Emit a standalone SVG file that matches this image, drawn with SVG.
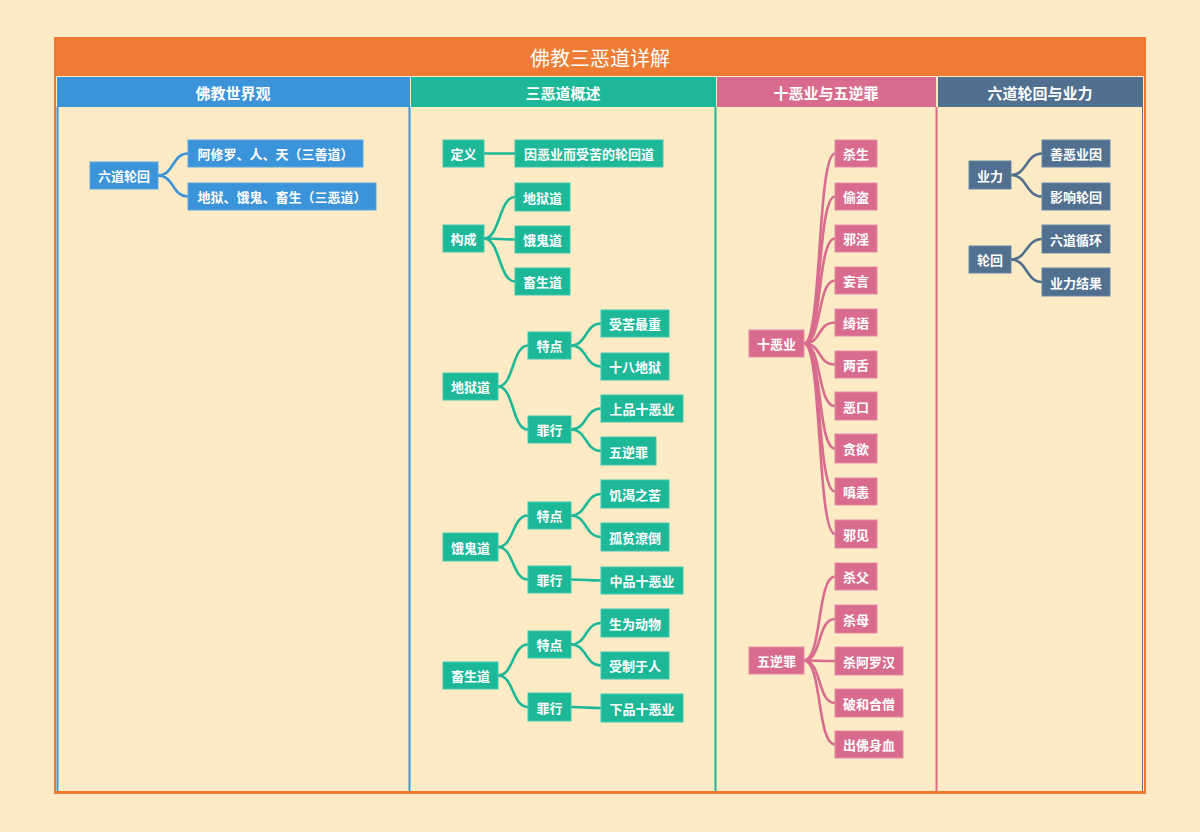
<svg xmlns="http://www.w3.org/2000/svg" width="1200" height="832" viewBox="0 0 1200 832">
<style>
text{font-family:"Noto Sans CJK SC","Microsoft YaHei",sans-serif;fill:#fff;text-anchor:middle;dominant-baseline:central}
.n{font-size:13px;font-weight:600}
.h{font-size:15px;font-weight:600}
.b rect{fill:#3B94D9;stroke:#5aa8e2;stroke-width:1}
.t rect{fill:#1DB898;stroke:#45c8ad;stroke-width:1}
.p rect{fill:#D96C8E;stroke:#e48ba6;stroke-width:1}
.s rect{fill:#517090;stroke:#6b87a3;stroke-width:1}
.c path{fill:none;stroke-width:2.6;stroke-linecap:round}
.cb path{stroke:#3B94D9}.ct path{stroke:#1DB898}.cp path{stroke:#D96C8E}.cs path{stroke:#517090}
</style>
<rect width="1200" height="832" fill="#FDEBC5"/>
<g id="frame">
<rect x="55" y="38" width="1090" height="755" fill="#FDEBC5" stroke="#EE7C34" stroke-width="2"/>
<rect x="55" y="38" width="1090" height="38" fill="#EE7C34"/>
<text x="600" y="57" style="font-size:20px">佛教三恶道详解</text>
</g>
<g id="columns">
<rect x="57" y="77" width="353" height="30" fill="#3B94D9"/>
<rect x="411" y="77" width="305" height="30" fill="#1DB898"/>
<rect x="717" y="77" width="219" height="30" fill="#D96C8E"/>
<rect x="938" y="77" width="205" height="30" fill="#517090"/>
<text class="h" x="233" y="92">佛教世界观</text>
<text class="h" x="563" y="92">三恶道概述</text>
<text class="h" x="826" y="92">十恶业与五逆罪</text>
<text class="h" x="1040" y="92">六道轮回与业力</text>
<line x1="57.5" y1="107" x2="57.5" y2="792" stroke="#3B94D9" stroke-width="2"/>
<line x1="409.5" y1="107" x2="409.5" y2="792" stroke="#3B94D9" stroke-width="2"/>
<line x1="715.5" y1="107" x2="715.5" y2="792" stroke="#1DB898" stroke-width="2"/>
<line x1="936.5" y1="107" x2="936.5" y2="792" stroke="#D96C8E" stroke-width="2"/>
<line x1="1142.5" y1="107" x2="1142.5" y2="792" stroke="#517090" stroke-width="1"/>
<line x1="55" y1="792" x2="1145" y2="792" stroke="#EE7C34" stroke-width="2"/>
</g>
<g id="connectors" class="c">
<g class="cb">
<path d="M158,175.5 C174,175.5 172,153.5 188,153.5"/>
<path d="M158,175.5 C174,175.5 172,196.5 188,196.5"/>
</g>
<g class="ct">
<path d="M484,153.5 L515,153.5"/>
<path d="M484,238.5 C500,238.5 499,197 515,197"/>
<path d="M484,238.5 C500,238.5 499,239.5 515,239.5"/>
<path d="M484,238.5 C500,238.5 499,281.5 515,281.5"/>
<path d="M498,386.5 C514,386.5 512,345.5 528,345.5"/>
<path d="M498,386.5 C514,386.5 512,429.5 528,429.5"/>
<path d="M571,345.5 C587,345.5 585,323.5 601,323.5"/>
<path d="M571,345.5 C587,345.5 585,366.5 601,366.5"/>
<path d="M571,429.5 C587,429.5 585,408.5 601,408.5"/>
<path d="M571,429.5 C587,429.5 585,451 601,451"/>
<path d="M498,547 C514,547 512,515.5 528,515.5"/>
<path d="M498,547 C514,547 512,579.5 528,579.5"/>
<path d="M571,515.5 C587,515.5 585,494 601,494"/>
<path d="M571,515.5 C587,515.5 585,537 601,537"/>
<path d="M571,579.5 C587,579.5 585,580.5 601,580.5"/>
<path d="M498,675.5 C514,675.5 512,644.5 528,644.5"/>
<path d="M498,675.5 C514,675.5 512,707 528,707"/>
<path d="M571,644.5 C587,644.5 585,623 601,623"/>
<path d="M571,644.5 C587,644.5 585,665.5 601,665.5"/>
<path d="M571,707 C587,707 585,708 601,708"/>
</g>
<g class="cp">
<path d="M804,343.5 C822,343.5 817,153.5 835,153.5"/>
<path d="M804,343.5 C822,343.5 817,196.5 835,196.5"/>
<path d="M804,343.5 C822,343.5 817,238.5 835,238.5"/>
<path d="M804,343.5 C822,343.5 817,280.5 835,280.5"/>
<path d="M804,343.5 C822,343.5 817,322.5 835,322.5"/>
<path d="M804,343.5 C822,343.5 817,364.5 835,364.5"/>
<path d="M804,343.5 C822,343.5 817,406 835,406"/>
<path d="M804,343.5 C822,343.5 817,448.5 835,448.5"/>
<path d="M804,343.5 C822,343.5 817,491.5 835,491.5"/>
<path d="M804,343.5 C822,343.5 817,534 835,534"/>
<path d="M804,660.5 C822,660.5 817,576.5 835,576.5"/>
<path d="M804,660.5 C822,660.5 817,619 835,619"/>
<path d="M804,660.5 C822,660.5 817,661 835,661"/>
<path d="M804,660.5 C822,660.5 817,703 835,703"/>
<path d="M804,660.5 C822,660.5 817,744.5 835,744.5"/>
</g>
<g class="cs">
<path d="M1011,175 C1027,175 1026,153.5 1042,153.5"/>
<path d="M1011,175 C1027,175 1026,196.5 1042,196.5"/>
<path d="M1011,259.5 C1027,259.5 1026,239 1042,239"/>
<path d="M1011,259.5 C1027,259.5 1026,282 1042,282"/>
</g>
</g>
<g id="n-liudao" class="b"><rect x="90" y="162" width="68" height="27"/><text class="n" x="124" y="175.5">六道轮回</text></g>
<g id="n-sanshan" class="b"><rect x="188" y="140" width="175" height="27"/><text class="n" x="275.5" y="153.5">阿修罗、人、天（三善道）</text></g>
<g id="n-sane" class="b"><rect x="188" y="183" width="188" height="27"/><text class="n" x="282" y="196.5">地狱、饿鬼、畜生（三恶道）</text></g>

<g id="n-dingyi" class="t"><rect x="443" y="140" width="41" height="27"/><text class="n" x="463.5" y="153.5">定义</text></g>
<g id="n-dingyi-c" class="t"><rect x="515" y="140" width="148" height="27"/><text class="n" x="589" y="153.5">因恶业而受苦的轮回道</text></g>
<g id="n-goucheng" class="t"><rect x="443" y="225" width="41" height="27"/><text class="n" x="463.5" y="238.5">构成</text></g>
<g id="n-gc1" class="t"><rect x="515" y="183" width="55" height="28"/><text class="n" x="542.5" y="197">地狱道</text></g>
<g id="n-gc2" class="t"><rect x="515" y="226" width="55" height="27"/><text class="n" x="542.5" y="239.5">饿鬼道</text></g>
<g id="n-gc3" class="t"><rect x="515" y="268" width="55" height="27"/><text class="n" x="542.5" y="281.5">畜生道</text></g>

<g id="n-diyu" class="t"><rect x="443" y="373" width="55" height="27"/><text class="n" x="470.5" y="386.5">地狱道</text></g>
<g id="n-dy-td" class="t"><rect x="528" y="332" width="43" height="27"/><text class="n" x="549.5" y="345.5">特点</text></g>
<g id="n-dy-zx" class="t"><rect x="528" y="416" width="43" height="27"/><text class="n" x="549.5" y="429.5">罪行</text></g>
<g id="n-dy1" class="t"><rect x="601" y="310" width="68" height="27"/><text class="n" x="635" y="323.5">受苦最重</text></g>
<g id="n-dy2" class="t"><rect x="601" y="353" width="68" height="27"/><text class="n" x="635" y="366.5">十八地狱</text></g>
<g id="n-dy3" class="t"><rect x="601" y="395" width="82" height="27"/><text class="n" x="642" y="408.5">上品十恶业</text></g>
<g id="n-dy4" class="t"><rect x="601" y="437" width="55" height="28"/><text class="n" x="628.5" y="451">五逆罪</text></g>

<g id="n-egui" class="t"><rect x="443" y="533" width="55" height="28"/><text class="n" x="470.5" y="547">饿鬼道</text></g>
<g id="n-eg-td" class="t"><rect x="528" y="502" width="43" height="27"/><text class="n" x="549.5" y="515.5">特点</text></g>
<g id="n-eg-zx" class="t"><rect x="528" y="566" width="43" height="27"/><text class="n" x="549.5" y="579.5">罪行</text></g>
<g id="n-eg1" class="t"><rect x="601" y="480" width="68" height="28"/><text class="n" x="635" y="494">饥渴之苦</text></g>
<g id="n-eg2" class="t"><rect x="601" y="523" width="68" height="28"/><text class="n" x="635" y="537">孤贫潦倒</text></g>
<g id="n-eg3" class="t"><rect x="601" y="567" width="82" height="27"/><text class="n" x="642" y="580.5">中品十恶业</text></g>

<g id="n-chusheng" class="t"><rect x="443" y="662" width="55" height="27"/><text class="n" x="470.5" y="675.5">畜生道</text></g>
<g id="n-cs-td" class="t"><rect x="528" y="631" width="43" height="27"/><text class="n" x="549.5" y="644.5">特点</text></g>
<g id="n-cs-zx" class="t"><rect x="528" y="693" width="43" height="28"/><text class="n" x="549.5" y="707">罪行</text></g>
<g id="n-cs1" class="t"><rect x="601" y="609" width="68" height="28"/><text class="n" x="635" y="623">生为动物</text></g>
<g id="n-cs2" class="t"><rect x="601" y="652" width="68" height="27"/><text class="n" x="635" y="665.5">受制于人</text></g>
<g id="n-cs3" class="t"><rect x="601" y="694" width="82" height="28"/><text class="n" x="642" y="708">下品十恶业</text></g>

<g id="n-shie" class="p"><rect x="749" y="330" width="55" height="27"/><text class="n" x="776.5" y="343.5">十恶业</text></g>
<g id="n-se1" class="p"><rect x="835" y="140" width="42" height="27"/><text class="n" x="856" y="153.5">杀生</text></g>
<g id="n-se2" class="p"><rect x="835" y="183" width="42" height="27"/><text class="n" x="856" y="196.5">偷盗</text></g>
<g id="n-se3" class="p"><rect x="835" y="225" width="42" height="27"/><text class="n" x="856" y="238.5">邪淫</text></g>
<g id="n-se4" class="p"><rect x="835" y="267" width="42" height="27"/><text class="n" x="856" y="280.5">妄言</text></g>
<g id="n-se5" class="p"><rect x="835" y="309" width="42" height="27"/><text class="n" x="856" y="322.5">绮语</text></g>
<g id="n-se6" class="p"><rect x="835" y="351" width="42" height="27"/><text class="n" x="856" y="364.5">两舌</text></g>
<g id="n-se7" class="p"><rect x="835" y="392" width="42" height="28"/><text class="n" x="856" y="406">恶口</text></g>
<g id="n-se8" class="p"><rect x="835" y="434" width="42" height="29"/><text class="n" x="856" y="448.5">贪欲</text></g>
<g id="n-se9" class="p"><rect x="835" y="478" width="42" height="27"/><text class="n" x="856" y="491.5">嗔恚</text></g>
<g id="n-se10" class="p"><rect x="835" y="520" width="42" height="28"/><text class="n" x="856" y="534">邪见</text></g>

<g id="n-wuni" class="p"><rect x="749" y="647" width="55" height="27"/><text class="n" x="776.5" y="660.5">五逆罪</text></g>
<g id="n-wn1" class="p"><rect x="835" y="563" width="42" height="27"/><text class="n" x="856" y="576.5">杀父</text></g>
<g id="n-wn2" class="p"><rect x="835" y="605" width="42" height="28"/><text class="n" x="856" y="619">杀母</text></g>
<g id="n-wn3" class="p"><rect x="835" y="647" width="68" height="28"/><text class="n" x="869" y="661">杀阿罗汉</text></g>
<g id="n-wn4" class="p"><rect x="835" y="689" width="68" height="28"/><text class="n" x="869" y="703">破和合僧</text></g>
<g id="n-wn5" class="p"><rect x="835" y="731" width="68" height="27"/><text class="n" x="869" y="744.5">出佛身血</text></g>

<g id="n-yeli" class="s"><rect x="969" y="161" width="42" height="28"/><text class="n" x="990" y="175">业力</text></g>
<g id="n-yl1" class="s"><rect x="1042" y="140" width="68" height="27"/><text class="n" x="1076" y="153.5">善恶业因</text></g>
<g id="n-yl2" class="s"><rect x="1042" y="183" width="68" height="27"/><text class="n" x="1076" y="196.5">影响轮回</text></g>
<g id="n-lunhui" class="s"><rect x="969" y="246" width="42" height="27"/><text class="n" x="990" y="259.5">轮回</text></g>
<g id="n-lh1" class="s"><rect x="1042" y="225" width="68" height="28"/><text class="n" x="1076" y="239">六道循环</text></g>
<g id="n-lh2" class="s"><rect x="1042" y="268" width="68" height="28"/><text class="n" x="1076" y="282">业力结果</text></g>
</svg>
